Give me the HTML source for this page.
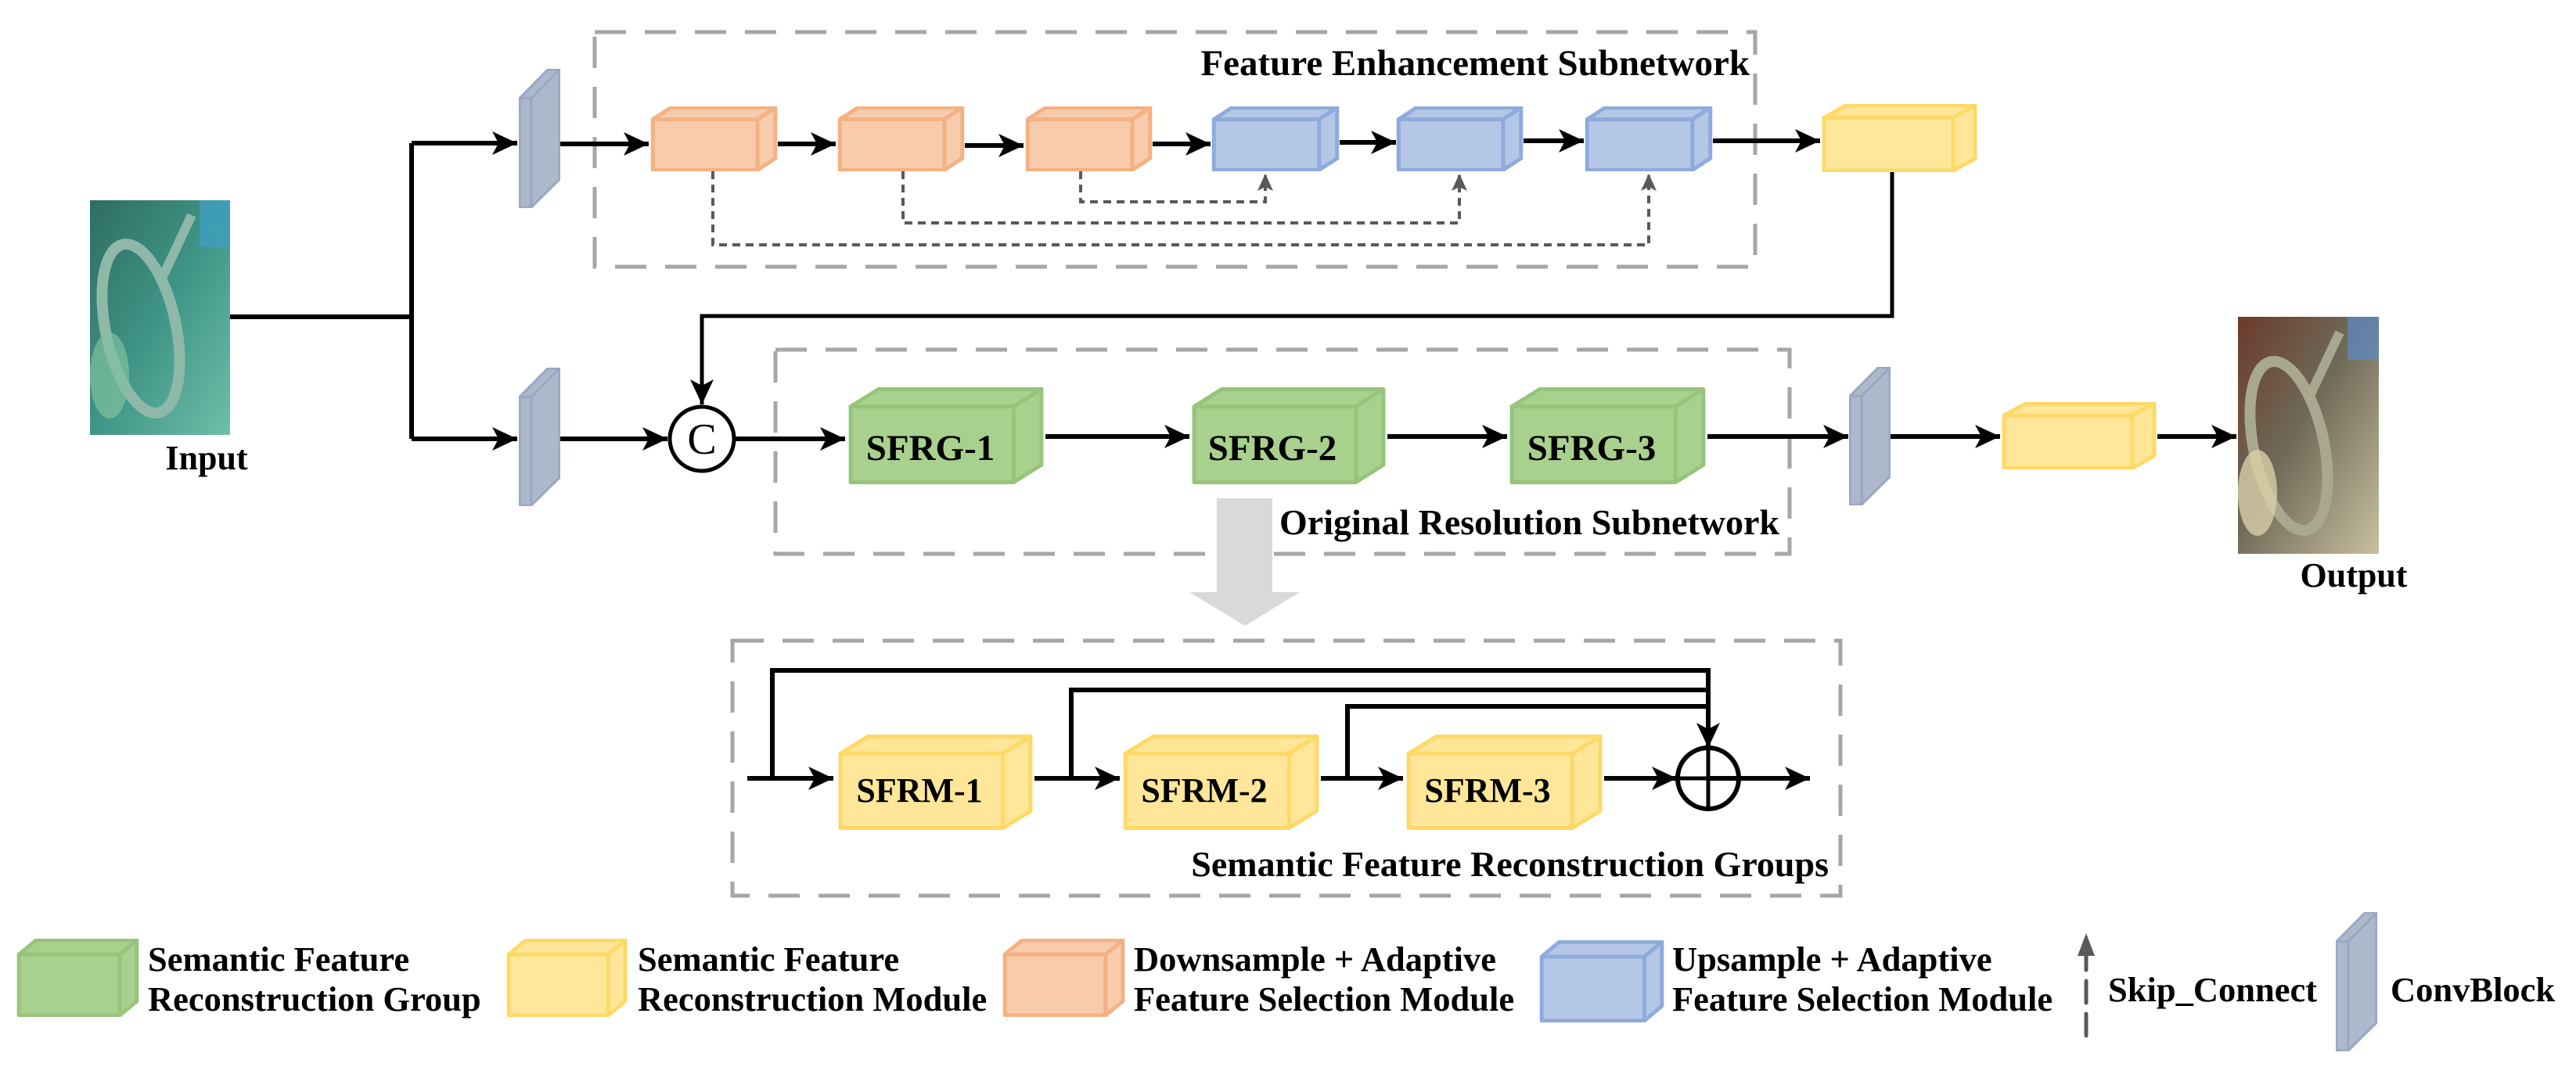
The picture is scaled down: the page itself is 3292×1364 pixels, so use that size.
<!DOCTYPE html>
<html><head><meta charset="utf-8"><style>
html,body{margin:0;padding:0;background:#fff;}
svg{display:block;}
text{font-family:"Liberation Serif",serif;font-weight:bold;fill:#000;}
</style></head><body>
<svg width="3292" height="1364" viewBox="0 0 3292 1364" xmlns="http://www.w3.org/2000/svg">
<defs>
<marker id="ah" markerUnits="userSpaceOnUse" markerWidth="34" markerHeight="30" refX="32" refY="15" orient="auto"><path d="M0,0 L32,15 L0,30 L8,15 Z" fill="#000"/></marker>
<marker id="gh" markerUnits="userSpaceOnUse" markerWidth="22" markerHeight="28" refX="20" refY="10" orient="auto"><path d="M0,0 L22,10 L0,20 L5,10 Z" fill="#595959"/></marker>
<symbol id="co" viewBox="0 0 100 100" preserveAspectRatio="none"><g stroke="#f4b183" stroke-width="5" fill="#f8cbad" stroke-linejoin="round"><polygon points="2,20 16,2 98,2 84,20" vector-effect="non-scaling-stroke"/><polygon points="84,20 98,2 98,80 84,98" vector-effect="non-scaling-stroke"/><rect x="2" y="20" width="82" height="78" vector-effect="non-scaling-stroke"/></g></symbol>
<symbol id="cb" viewBox="0 0 100 100" preserveAspectRatio="none"><g stroke="#8faadc" stroke-width="5" fill="#b4c7e7" stroke-linejoin="round"><polygon points="2,20 16,2 98,2 84,20" vector-effect="non-scaling-stroke"/><polygon points="84,20 98,2 98,80 84,98" vector-effect="non-scaling-stroke"/><rect x="2" y="20" width="82" height="78" vector-effect="non-scaling-stroke"/></g></symbol>
<symbol id="cg" viewBox="0 0 100 100" preserveAspectRatio="none"><g stroke="#97c47a" stroke-width="5" fill="#a9d18e" stroke-linejoin="round"><polygon points="2,20 16,2 98,2 84,20" vector-effect="non-scaling-stroke"/><polygon points="84,20 98,2 98,80 84,98" vector-effect="non-scaling-stroke"/><rect x="2" y="20" width="82" height="78" vector-effect="non-scaling-stroke"/></g></symbol>
<symbol id="cy" viewBox="0 0 100 100" preserveAspectRatio="none"><g stroke="#ffd966" stroke-width="5" fill="#ffe699" stroke-linejoin="round"><polygon points="2,20 16,2 98,2 84,20" vector-effect="non-scaling-stroke"/><polygon points="84,20 98,2 98,80 84,98" vector-effect="non-scaling-stroke"/><rect x="2" y="20" width="82" height="78" vector-effect="non-scaling-stroke"/></g></symbol>
<symbol id="cv" viewBox="0 0 53 180" preserveAspectRatio="none"><polygon points="1,38 37,1 52,1 52,143 16,179 1,179" fill="#adb9ca" stroke="#97a8c2" stroke-width="3"/><polyline points="16,179 16,38 52,1" fill="none" stroke="#97a8c2" stroke-width="3"/><line x1="1" y1="38" x2="16" y2="38" stroke="#97a8c2" stroke-width="3"/></symbol>
<linearGradient id="gin" x1="0" y1="0" x2="1" y2="1"><stop offset="0" stop-color="#2f6d62"/><stop offset="0.5" stop-color="#3f9586"/><stop offset="1" stop-color="#6fbfa8"/></linearGradient>
<linearGradient id="gout" x1="0" y1="0" x2="1" y2="1"><stop offset="0" stop-color="#6b3a2c"/><stop offset="0.45" stop-color="#6f6a58"/><stop offset="1" stop-color="#c9c0a0"/></linearGradient>
</defs>

<!-- Input image -->
<rect x="115" y="256" width="179" height="300" fill="url(#gin)"/>
<rect x="255" y="256" width="39" height="60" fill="#3fa0c8" opacity="0.7"/>
<ellipse cx="180" cy="420" rx="45" ry="110" transform="rotate(-12 180 420)" fill="none" stroke="#8fb8a8" stroke-width="14"/>
<line x1="205" y1="360" x2="245" y2="275" stroke="#8fb8a8" stroke-width="12"/>
<ellipse cx="140" cy="480" rx="25" ry="55" fill="#80c0a0" opacity="0.7"/>
<text x="264" y="600" font-size="44" text-anchor="middle">Input</text>

<!-- Output image -->
<rect x="2860" y="405" width="180" height="303" fill="url(#gout)"/>
<rect x="3000" y="405" width="40" height="55" fill="#5a8ac8" opacity="0.7"/>
<ellipse cx="2925" cy="570" rx="45" ry="110" transform="rotate(-12 2925 570)" fill="none" stroke="#a8a890" stroke-width="14"/>
<line x1="2950" y1="510" x2="2990" y2="425" stroke="#a8a890" stroke-width="12"/>
<ellipse cx="2885" cy="630" rx="25" ry="55" fill="#d8cfa8" opacity="0.8"/>
<text x="3008" y="750" font-size="44" text-anchor="middle">Output</text>

<!-- Dashed boxes -->
<g fill="none" stroke="#a6a6a6" stroke-width="5" stroke-dasharray="40,24">
<rect x="760" y="41" width="1483" height="300"/>
<rect x="991" y="447" width="1296" height="261"/>
<rect x="936" y="819" width="1416" height="326"/>
</g>
<text x="2236" y="96" font-size="47" text-anchor="end">Feature Enhancement Subnetwork</text>
<text x="2274" y="683" font-size="46" text-anchor="end">Original Resolution Subnetwork</text>
<text x="2337" y="1120" font-size="46" text-anchor="end">Semantic Feature Reconstruction Groups</text>

<!-- gray big down arrow -->
<rect x="1555" y="637" width="71" height="120" fill="#d9d9d9"/>
<polygon points="1520,757 1661,757 1591,800" fill="#d9d9d9"/>

<!-- Conv blocks -->
<use href="#cv" x="663" y="88" width="53" height="178"/>
<use href="#cv" x="663" y="470" width="53" height="177"/>
<use href="#cv" x="2363" y="469" width="53" height="177"/>

<!-- Main lines -->
<g stroke="#000" stroke-width="6" fill="none">
<polyline points="294,405 526,405"/>
<polyline points="526,183 526,561"/>
<line x1="526" y1="183" x2="661" y2="183" marker-end="url(#ah)"/>
<line x1="526" y1="561" x2="661" y2="561" marker-end="url(#ah)"/>
<line x1="716" y1="184" x2="829" y2="184" marker-end="url(#ah)"/>
<line x1="994" y1="184" x2="1068" y2="184" marker-end="url(#ah)"/>
<line x1="1233" y1="186" x2="1308" y2="186" marker-end="url(#ah)"/>
<line x1="1473" y1="184" x2="1547" y2="184" marker-end="url(#ah)"/>
<line x1="1712" y1="182" x2="1784" y2="182" marker-end="url(#ah)"/>
<line x1="1947" y1="180" x2="2024" y2="180" marker-end="url(#ah)"/>
<line x1="2189" y1="180" x2="2326" y2="180" marker-end="url(#ah)"/>
<polyline points="2418,220 2418,404 897,404 897,517" stroke-width="5" marker-end="url(#ah)"/>
<line x1="716" y1="561" x2="853" y2="561" marker-end="url(#ah)"/>
<line x1="940" y1="561" x2="1080" y2="561" marker-end="url(#ah)"/>
<line x1="1336" y1="558" x2="1520" y2="558" marker-end="url(#ah)"/>
<line x1="1773" y1="558" x2="1926" y2="558" marker-end="url(#ah)"/>
<line x1="2182" y1="558" x2="2362" y2="558" marker-end="url(#ah)"/>
<line x1="2416" y1="558" x2="2556" y2="558" marker-end="url(#ah)"/>
<line x1="2757" y1="558" x2="2858" y2="558" marker-end="url(#ah)"/>
</g>
<circle cx="897" cy="561" r="41" fill="#fff" stroke="#000" stroke-width="5"/>
<text x="897" y="580" font-size="56" text-anchor="middle" style="font-weight:normal">C</text>

<!-- Skip dashed -->
<g stroke="#595959" stroke-width="4" fill="none" stroke-dasharray="10,7">
<polyline points="911,219 911,313 2107,313 2107,224" marker-end="url(#gh)"/>
<polyline points="1154,219 1154,285 1865,285 1865,224" marker-end="url(#gh)"/>
<polyline points="1381,219 1381,258 1617,258 1617,224" marker-end="url(#gh)"/>
</g>

<!-- Top cubes -->
<use href="#co" x="831" y="136" width="163" height="83"/>
<use href="#co" x="1070" y="136" width="163" height="83"/>
<use href="#co" x="1310" y="136" width="163" height="83"/>
<use href="#cb" x="1548" y="136" width="164" height="83"/>
<use href="#cb" x="1784" y="136" width="163" height="83"/>
<use href="#cb" x="2025" y="136" width="164" height="83"/>
<use href="#cy" x="2327" y="133" width="201" height="87"/>

<!-- Green -->
<use href="#cg" x="1082" y="495" width="254" height="124"/>
<use href="#cg" x="1521" y="495" width="252" height="124"/>
<use href="#cg" x="1927" y="495" width="255" height="124"/>
<text x="1189" y="588" font-size="47" text-anchor="middle">SFRG-1</text>
<text x="1626" y="588" font-size="47" text-anchor="middle">SFRG-2</text>
<text x="2034" y="588" font-size="47" text-anchor="middle">SFRG-3</text>
<use href="#cy" x="2557" y="514" width="200" height="86"/>

<!-- Bottom group -->
<g stroke="#000" stroke-width="6" fill="none">
<polyline points="987,995 987,857 2183,857 2183,956" marker-end="url(#ah)"/>
<polyline points="1369,995 1369,882 2183,882"/>
<polyline points="1722,995 1722,903 2183,903"/>
<line x1="955" y1="995" x2="1065" y2="995" marker-end="url(#ah)"/>
<line x1="1322" y1="995" x2="1431" y2="995" marker-end="url(#ah)"/>
<line x1="1688" y1="995" x2="1793" y2="995" marker-end="url(#ah)"/>
<line x1="2050" y1="995" x2="2143" y2="995" marker-end="url(#ah)"/>
<line x1="2183" y1="995" x2="2313" y2="995" marker-end="url(#ah)"/>
</g>
<circle cx="2183" cy="995" r="39" fill="none" stroke="#000" stroke-width="6"/>
<line x1="2144" y1="995" x2="2222" y2="995" stroke="#000" stroke-width="5"/>
<line x1="2183" y1="956" x2="2183" y2="1034" stroke="#000" stroke-width="5"/>
<use href="#cy" x="1069" y="939" width="253" height="122"/>
<use href="#cy" x="1433" y="939" width="255" height="122"/>
<use href="#cy" x="1795" y="939" width="255" height="122"/>
<text x="1175" y="1025" font-size="44" text-anchor="middle">SFRM-1</text>
<text x="1539" y="1025" font-size="44" text-anchor="middle">SFRM-2</text>
<text x="1901" y="1025" font-size="44" text-anchor="middle">SFRM-3</text>

<!-- Legend -->
<use href="#cg" x="21" y="1200" width="157" height="100"/>
<use href="#cy" x="647" y="1200" width="155" height="100"/>
<use href="#co" x="1281" y="1200" width="157" height="100"/>
<use href="#cb" x="1967" y="1202" width="160" height="105"/>
<g font-size="44.5">
<text x="189" y="1241">Semantic Feature</text>
<text x="189" y="1292">Reconstruction Group</text>
<text x="815" y="1241">Semantic Feature</text>
<text x="815" y="1292">Reconstruction Module</text>
<text x="1449" y="1241">Downsample + Adaptive</text>
<text x="1449" y="1292">Feature Selection Module</text>
<text x="2137" y="1241">Upsample + Adaptive</text>
<text x="2137" y="1292">Feature Selection Module</text>
<text x="2694" y="1280">Skip_Connect</text>
<text x="3055" y="1280">ConvBlock</text>
</g>
<line x1="2666" y1="1324" x2="2666" y2="1220" stroke="#595959" stroke-width="5" stroke-dasharray="28,14" stroke-linecap="round"/>
<polygon points="2655,1222 2666,1193 2677,1222" fill="#595959"/>
<use href="#cv" x="2985" y="1166" width="53" height="178"/>
</svg>
</body></html>
